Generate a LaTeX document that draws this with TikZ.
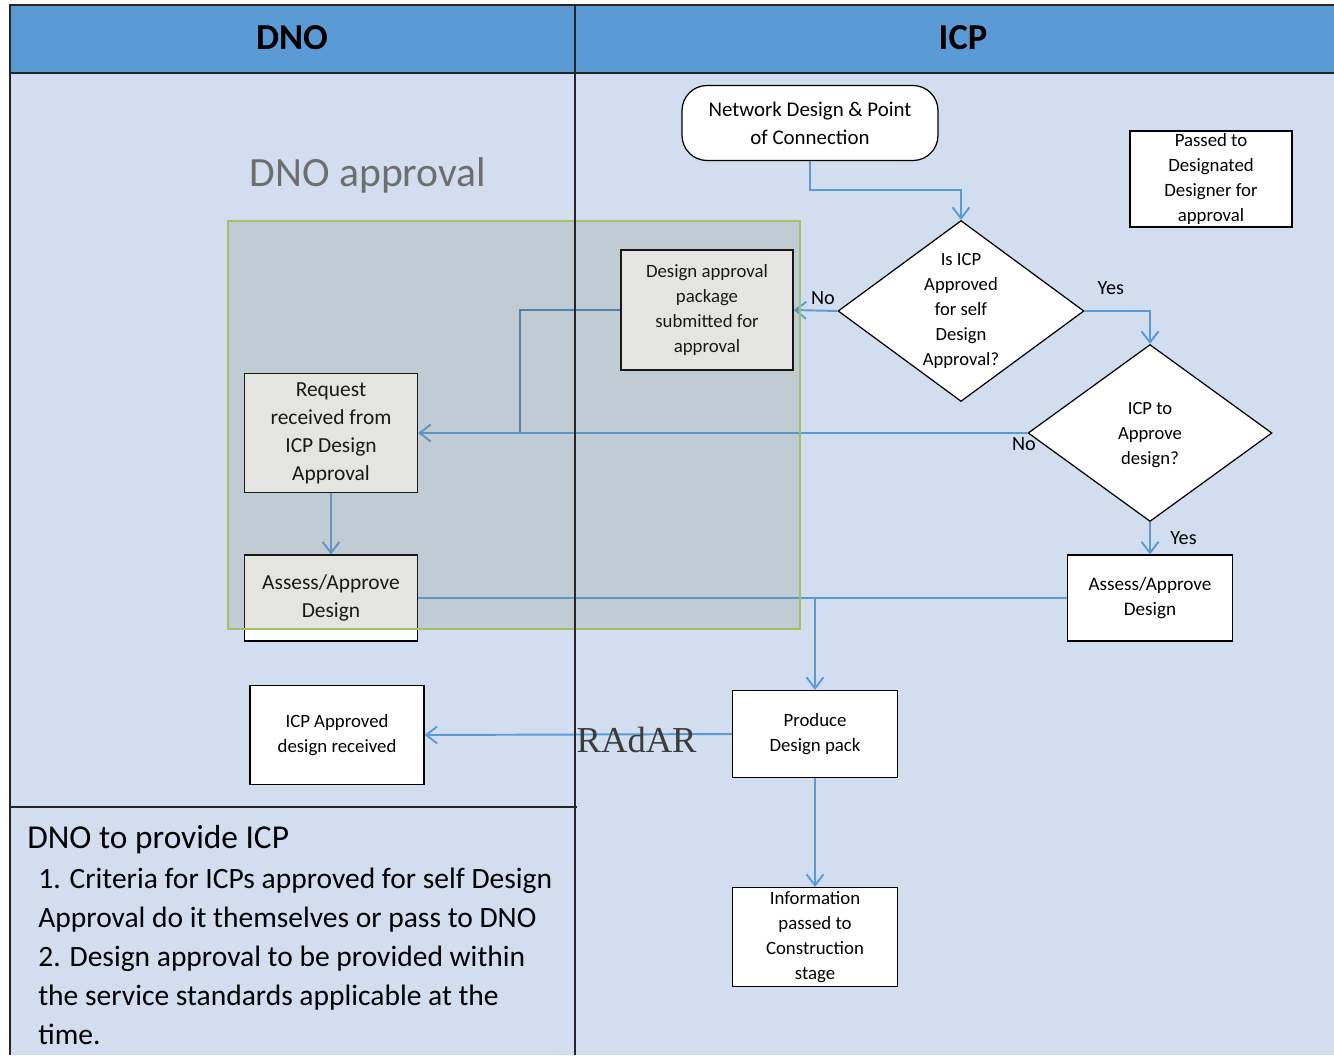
\documentclass[tikz,border=0pt]{standalone}
\usepackage{fontspec}
\setmainfont{Carlito}
\newfontfamily\radarfont{Liberation Serif}
\usetikzlibrary{positioning,arrows.meta,shapes.geometric}
\definecolor{headblue}{HTML}{5B9BD5}
\definecolor{laneblue}{HTML}{D2DEEF}
\definecolor{flowblue}{HTML}{5B9BD5}
\definecolor{shadegray}{HTML}{78806A}
\definecolor{shadegreen}{HTML}{A3C168}
\definecolor{titlegray}{HTML}{6E6E6E}
\definecolor{radargray}{HTML}{3C3C3C}

\begin{document}
\begin{tikzpicture}[x=0.02cm,y=-0.02cm,
 rule/.style={line width=0.8pt,black!85},
 box/.style={draw=black,line width=0.7pt,fill=white,align=center,inner sep=1pt,font=\fontsize{10.7}{14.2}\selectfont},
 bigbox/.style={box,font=\fontsize{12.2}{15.9}\selectfont},
 dec/.style={diamond,draw=black,line width=0.7pt,fill=white,inner sep=0pt},
 dtext/.style={align=center,inner sep=0pt,font=\fontsize{10.6}{14.2}\selectfont},
 wire/.style={line width=1.1pt,flowblue},
 flux/.style={wire,-{Straight Barb[length=2.2mm,width=3.4mm]}},
 link/.style={line width=0.8pt,flowblue!85!black},
 lab/.style={font=\fontsize{11.5}{13}\selectfont,inner sep=1pt,text=black},
 head/.style={font=\fontsize{20.8}{24}\selectfont\bfseries}]
\useasboundingbox (0,0) rectangle (1334,1055);
% lanes
\fill[white] (0,0) rectangle (1334,1055);
\fill[laneblue] (10,5) rectangle (1334,1055);
\fill[headblue] (10,5) rectangle (1334,73);
\node[head] (dnohd) at (292,38) {DNO};
\node[head] (icphd) at (963,38) {ICP};
\node[font=\fontsize{23.7}{28}\selectfont,text=titlegray] (dnoappr) at (368,175) {DNO approval};
% ICP lane
\node[bigbox,rounded corners=0.5cm,minimum width=5.12cm,minimum height=1.5cm,font=\fontsize{11.9}{15.9}\selectfont] (start) at (810,123) {Network Design \& Point\\of Connection};
\node[box,minimum width=3.24cm,minimum height=1.92cm] (passed) at (1211,179) {Passed to\\Designated\\Designer for\\approval};
\node[dec,minimum width=4.92cm,minimum height=3.62cm] (selfq) at (961,311) {};
\node[dtext] (selfqtxt) at (selfq) {Is ICP\\Approved\\for self\\Design\\Approval?};
\node[dec,minimum width=4.88cm,minimum height=3.54cm] (appq) at (1150,433) {};
\node[dtext] (appqtxt) at (1150,435) {ICP to\\Approve\\design?};
\node[box,minimum width=3.44cm,minimum height=2.4cm] (pkg) at (707,310) {Design approval\\package\\submitted for\\approval};
\node[box,minimum width=3.3cm,minimum height=1.72cm,font=\fontsize{10.9}{14.2}\selectfont] (assessicp) at (1150,598) {Assess/Approve\\Design};
\node[box,minimum width=3.3cm,minimum height=1.74cm] (produce) at (815,734) {Produce\\Design pack};
\node[box,minimum width=3.3cm,minimum height=1.98cm] (info) at (815,937) {Information\\passed to\\Construction\\stage};
% DNO lane
\node[bigbox,minimum width=3.46cm,minimum height=2.38cm] (request) at (331,433) {Request\\received from\\ICP Design\\Approval};
\node[bigbox,minimum width=3.46cm,minimum height=1.72cm] (assessdno) at (331,598) {Assess/Approve\\Design};
\node[box,minimum width=3.48cm,minimum height=1.98cm] (received) at (337,735) {ICP Approved\\design received};
\coordinate (join) at (520,433);
% connectors
\draw[flux] (start.south) -- ++(0,29) -| (selfq.north);
\draw[flux] (selfq.west) -- (pkg.east) node[lab,pos=0.33,above=2pt] {No};
\draw[flux] (selfq.east) -| (appq.north) node[lab,pos=0.2,above=8pt] {Yes};
\draw[link] (pkg.west) -| (join);
\draw[flux] (appq.west) -- (request.east) node[lab,pos=0,below=1pt,xshift=-2pt] {No};
\draw[flux] (appq.south) -- (assessicp.north) node[lab,midway,right=10pt] {Yes};
\draw[flux] (request.south) -- (assessdno.north);
\draw[flux] (assessdno.east) -| (produce.north);
\draw[wire] (assessicp.west) -- (assessicp.west -| produce.north);
\draw[flux] (produce.west) -- (received.east)
 node[pos=0.31,inner sep=0pt,yshift=-3pt,text=radargray,font=\radarfont\fontsize{20.8}{24}\selectfont] {RAdAR};
\draw[flux] (produce.south) -- (info.north);
% DNO approval shade
\fill[shadegray,fill opacity=0.2] (228,221) rectangle (800,629);
\draw[shadegreen,line width=1pt] (228,221) rectangle (800,629);
% lane rules
\draw[rule] (10,1055) -- (10,5) -- (1334,5);
\draw[rule] (10,73) -- (1334,73);
\draw[rule] (575,5) -- (575,1055);
\draw[rule] (10,807) -- (577,807);
% note
\node[anchor=west,inner sep=0pt,font=\fontsize{19}{22}\selectfont] (notehd) at (27,840) {DNO to provide ICP};
\node[anchor=north west,inner sep=0pt,align=left,font=\fontsize{16.8}{22.1}\selectfont] (notebody) at (38,868)
 {1. Criteria for ICPs approved for self Design\\Approval do it themselves or pass to DNO\\2. Design approval to be provided within\\the service standards applicable at the\\time.};
\end{tikzpicture}
\end{document}
